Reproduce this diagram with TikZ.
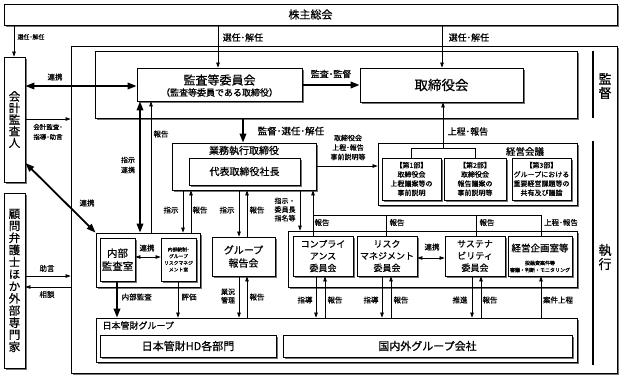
\documentclass[tikz,border=0pt]{standalone}
\usepackage{fontspec}
\setmainfont{Noto Sans CJK JP}[FakeBold=0.5]
\usetikzlibrary{arrows.meta,shadows,calc}
\newcommand\fs[2]{\fontsize{#1}{#2}\selectfont}
\newcommand\BX[7][]{\node[bx,#1,minimum width={(#5-#3)*1pt},minimum height={(#6-#4)*1pt}] (#2) at ({(#3+#5)/2},{(#4+#6)/2}) {#7};}
\begin{document}
\begin{tikzpicture}[x=1pt,y=-1pt,
  bx/.style={draw, line width=0.8pt, fill=white, inner sep=0pt, align=center,
    drop shadow={shadow xshift=1.5pt, shadow yshift=-1.5pt, fill=black!55, opacity=1}},
  tarr/.style={line width=0.6pt, -{Triangle[length=5pt,width=3.5pt]}},
  tarrb/.style={line width=0.6pt, {Triangle[length=5pt,width=3.5pt]}-{Triangle[length=5pt,width=3.5pt]}},
  thk/.style={line width=1.8pt, -{Triangle[length=9pt,width=6.5pt]}},
  thkb/.style={line width=1.8pt, {Triangle[length=9pt,width=6.5pt]}-{Triangle[length=9pt,width=6.5pt]}},
  tline/.style={line width=0.6pt},
  lbl/.style={font=\fs{7.5}{9}, inner sep=0.5pt, align=center}]
\useasboundingbox (0,0) rectangle (627,383);

% boxes
\BX[font=\fs{11}{11}]{kabu}{4}{4}{617}{25}{株主総会}
\BX[font=\fs{11.5}{11.6}]{kaikei}{4}{57}{25}{182}{会\\計\\監\\査\\人}
\BX[font=\fs{11.5}{12.1}]{komon}{4}{193}{25}{368}{顧\\問\\弁\\護\\士\\ほ\\か\\外\\部\\専\\門\\家}
\BX{outer}{71}{46}{617}{373}{}
\BX{kantoku}{95}{51}{577}{118}{}
\BX{kansa}{137}{68}{302}{101}{}
\node[font=\fs{12}{12}] (kansaA) at (219.5,80) {監査等委員会};
\node[font=\fs{9}{9}] (kansaB) at (219.5,92.5) {（監査等委員である取締役）};
\BX[font=\fs{13.5}{13.5}]{tori}{360}{68}{523}{102}{取締役会}

\BX{gyomu}{172}{143}{316}{190}{}
\node[font=\fs{10}{10}] (gyomuT) at (244,150.5) {業務執行取締役};
\BX[font=\fs{10}{10}]{daihyo}{189}{158}{300}{185}{代表取締役社長}

\BX{keiei}{378}{143}{577}{205}{}
\node[font=\fs{9.5}{9.5}] (keieiT) at (525,151.5) {経営会議};
\BX[font=\fs{7}{9.2}]{bu1}{382}{158}{441}{200}{【第1部】\\取締役会\\上程議案等の\\事前説明}
\BX[font=\fs{7}{9.2}]{bu2}{444}{158}{506}{200}{【第2部】\\取締役会\\報告議案の\\事前説明等}
\BX[font=\fs{7}{9.2}]{bu3}{512}{158}{571}{200}{【第3部】\\グループにおける\\重要経営課題等の\\共有及び議論}

\BX{lgroup}{96}{233}{200}{287}{}
\BX[font=\fs{10.5}{13}]{naibu}{100}{238}{135}{281}{内部\\監査室}
\BX[font=\fs{4.8}{6.7}]{naito}{161}{238}{196}{281}{内部統制･\\グループ\\リスクマネジ\\メント室}
\BX[font=\fs{10}{13}]{grhok}{212}{237}{275}{276}{グループ\\報告会}

\BX{cgroup}{288}{231}{577}{287}{}
\BX[font=\fs{9}{12}]{comp}{293}{236}{353}{276}{コンプライ\\アンス\\委員会}
\BX[font=\fs{9}{12}]{risk}{357}{236}{417}{276}{リスク\\マネジメント\\委員会}
\BX[font=\fs{9}{12}]{sus}{445}{236}{505}{276}{サステナ\\ビリティ\\委員会}
\BX{kikaku}{508}{236}{572}{276}{}
\node[font=\fs{9.5}{9.5}] (kikakuT) at (540,248) {経営企画室等};
\node[font=\fs{5}{7}, align=center] (kikakuS) at (540,266.5) {投融資案件等\\審議・判断・モニタリング};

\BX{nkg}{96}{318}{577}{362}{}
\node[font=\fs{9}{9}, anchor=west] (nkgT) at (99,325.5) {日本管財グループ};
\BX[font=\fs{11}{11}]{hd}{100}{335}{276}{357}{日本管財HD各部門}
\BX[font=\fs{11}{11}]{kokunai}{283}{335}{572}{357}{国内外グループ会社}

% side bars
\draw[line width=2.5pt] (593,51) -- (593,118);
\node[font=\fs{13}{14}, align=center] (kantokuL) at (605,86) {監\\督};
\draw[line width=2.5pt] (593,141) -- (593,365);
\node[font=\fs{13}{14}, align=center] (shikkoL) at (605,257) {執\\行};

% top arrows
\draw[tarr] (kabu.south -| 14,0) -- (kaikei.north -| 14,0);
\node[lbl, font=\fs{6}{6}] (la) at (31,37) {選任･解任};
\draw[tarr] (kabu.south -| 218,0) -- (kansa.north -| 218,0);
\node[lbl, font=\fs{9}{9}, anchor=west] (lb) at (222,37.5) {選任･解任};
\draw[tarr] (kabu.south -| 442,0) -- (tori.north -| 442,0);
\node[lbl, font=\fs{9}{9}, anchor=west] (lc) at (448,37.5) {選任･解任};

\draw[thkb] (kaikei.east |- 0,86) -- (kansa.west |- 0,86);
\node[lbl] (ld) at (55,77) {連携};
\draw[tarr] (kaikei.east |- 0,119) -- (outer.west |- 0,119);
\node[lbl, font=\fs{6.5}{10}] (le) at (48,132) {会計監査･\\指導･助言};
\draw[thk] (kansa.east |- 0,85) -- (tori.west |- 0,85);
\node[lbl, font=\fs{9}{9}] (lf) at (331,74) {監査･監督};
\draw[thk] (kantoku.south -| 243,0) -- (gyomu.north -| 243,0);
\node[lbl, font=\fs{9.5}{9.5}, anchor=west] (lg) at (257,131) {監督･選任･解任};

\draw[thkb] (kaikei.east |- 0,163) -- (lgroup.north west);
\node[lbl] (lh) at (87,203) {連携};
\draw[tarr] (komon.east |- 0,276) -- (outer.west |- 0,276);
\node[lbl] (li) at (47,268.5) {助言};
\draw[tarr] (outer.west |- 0,287) -- (komon.east |- 0,287);
\node[lbl] (lj) at (47,294.5) {相談};

\draw[thkb] (kansa.south -| 140,0) -- (lgroup.north -| 140,0);
\node[lbl, font=\fs{7}{10}] (lk) at (128,165) {指示\\連携};
\draw[tarr] (lgroup.north -| 151,0) -- (kansa.south -| 151,0);
\node[lbl] (ll) at (161,134) {報告};

\draw[tarr] (gyomu.east |- 0,166) -- (keiei.west |- 0,166);
\node[lbl, font=\fs{7}{9.5}] (lm) at (348,147.5) {取締役会\\上程･報告\\事前説明等};
\coordinate (brk) at (443,148);
\draw[tline] (bu1.north) -- (bu1.north |- brk) -- (bu2.north |- brk) -- (bu2.north);
\draw[tarr] (brk) -- (tori.south -| brk);
\node[lbl, font=\fs{9}{9}, anchor=west] (ln) at (447,131.5) {上程･報告};

% middle arrows
\draw[tarr] (gyomu.south -| 183,0) -- (lgroup.north -| 183,0);
\node[lbl] (lo) at (171,210) {指示};
\draw[tarr] (lgroup.north -| 191,0) -- (gyomu.south -| 191,0);
\node[lbl] (lp) at (200,210) {報告};
\draw[tarr] (gyomu.south -| 239,0) -- (grhok.north -| 239,0);
\node[lbl] (lq) at (227,210) {指示};
\draw[tarr] (grhok.north -| 247,0) -- (gyomu.south -| 247,0);
\node[lbl] (lr) at (257,210) {報告};
\draw[tarr] (gyomu.south -| 300,0) -- (cgroup.north -| 300,0);
\node[lbl, font=\fs{7}{8.7}] (ls) at (285,209.5) {指示・\\委員長\\指名等};

\coordinate (busL) at (313,215);
\coordinate (busR) at (541,215);
\draw[tarr] (comp.north -| busL) -- (gyomu.south -| busL);
\draw[tline] (busL) -- (busR) -- (kikaku.north -| busR);
\draw[tline] (risk.north -| 386,0) -- (busL -| 386,0);
\draw[tline] (sus.north -| 476,0) -- (busL -| 476,0);
\node[lbl] (lt1) at (322,222.5) {報告};
\node[lbl] (lt2) at (397,222.5) {報告};
\node[lbl] (lt3) at (487,222.5) {報告};
\node[lbl] (lt4) at (561,222.5) {上程･報告};

\draw[tarrb] (risk.east |- 0,258) -- (sus.west |- 0,258);
\node[lbl] (lu) at (432,247) {連携};
\draw[tarrb] (naibu.east |- 0,257) -- (naito.west |- 0,257);
\node[lbl] (lv) at (147,248) {連携};

% lower arrows
\draw[thk] (naibu.south -| 117,0) -- (nkg.north -| 117,0);
\node[lbl, anchor=west] (lw) at (121,297) {内部監査};
\draw[tarr] (naito.south -| 178,0) -- (nkg.north -| 178,0);
\node[lbl] (lx) at (189,297) {評価};
\draw[tarr] (grhok.south -| 239,0) -- (nkg.north -| 239,0);
\node[lbl, font=\fs{7}{8.5}] (ly) at (228,296) {業況\\管理};
\draw[tarr] (nkg.north -| 247,0) -- (grhok.south -| 247,0);
\node[lbl] (lz) at (257,297) {報告};

\draw[tarr] (comp.south -| 316,0) -- (nkg.north -| 316,0);
\draw[tarr] (nkg.north -| 325,0) -- (comp.south -| 325,0);
\node[lbl] (b1) at (305,300) {指導};
\node[lbl] (b2) at (335,300) {報告};
\draw[tarr] (risk.south -| 382,0) -- (nkg.north -| 382,0);
\draw[tarr] (nkg.north -| 391,0) -- (risk.south -| 391,0);
\node[lbl] (b3) at (371,300) {指導};
\node[lbl] (b4) at (401,300) {報告};
\draw[tarr] (sus.south -| 472,0) -- (nkg.north -| 472,0);
\draw[tarr] (nkg.north -| 481,0) -- (sus.south -| 481,0);
\node[lbl] (b5) at (460,300) {推進};
\node[lbl] (b6) at (490,300) {報告};
\draw[tarr] (nkg.north -| 541,0) -- (kikaku.south -| 541,0);
\node[lbl] (b7) at (558,300) {案件上程};
\end{tikzpicture}
\end{document}
